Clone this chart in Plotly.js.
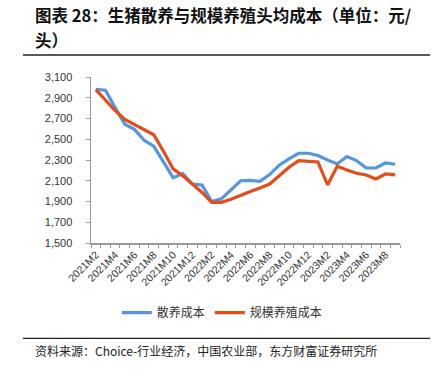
<!DOCTYPE html>
<html>
<head>
<meta charset="utf-8">
<script src="https://cdn.plot.ly/plotly-3.0.1.min.js"></script>
<style>html,body{margin:0;padding:0;background:#fff;}#chart{width:445px;height:375px;}</style>
</head>
<body>
<div id="chart"></div>
<script>
const months = ["2021M2","2021M3","2021M4","2021M5","2021M6","2021M7","2021M8","2021M9","2021M10","2021M11","2021M12","2022M1",
  "2022M2","2022M3","2022M4","2022M5","2022M6","2022M7","2022M8","2022M9","2022M10","2022M11","2022M12","2023M1",
  "2023M2","2023M3","2023M4","2023M5","2023M6","2023M7","2023M8","2023M9"];
const tickLabels = ["2021M2","","2021M4","","2021M6","","2021M8","","2021M10","","2021M12","",
  "2022M2","","2022M4","","2022M6","","2022M8","","2022M10","","2022M12","",
  "2023M2","","2023M4","","2023M6","","2023M8",""];
const freeRangeCost = [2980,2972,2805,2645,2595,2490,2433,2285,2130,2168,2068,2058,
  1900,1925,2008,2100,2104,2095,2160,2250,2310,2365,2365,2343,
  2300,2262,2333,2294,2223,2223,2271,2259];
const scaleFarmCost = [2978,2875,2775,2690,2640,2590,2543,2385,2215,2148,2068,1987,
  1892,1892,1922,1961,1997,2030,2068,2149,2230,2294,2288,2281,
  2059,2239,2204,2172,2156,2117,2165,2156];
const seriesNames = ["散养成本","规模养殖成本"];
const titleLine1 = "图表 28：生猪散养与规模养殖头均成本（单位：元/";
const titleLine2 = "头）";
const sourceText = "资料来源：Choice-行业经济，中国农业部，东方财富证券研究所";

const cjk = '"Noto Sans CJK SC", sans-serif';
const traces = [
  {x: months, y: freeRangeCost, name: seriesNames[0], type: 'scatter', mode: 'lines',
   line: {color: '#5596DC', width: 3.2}},
  {x: months, y: scaleFarmCost, name: seriesNames[1], type: 'scatter', mode: 'lines',
   line: {color: '#E04E1B', width: 3.2}}
];
const layout = {
  width: 445, height: 375,
  margin: {l: 91, r: 45, t: 77, b: 132},
  paper_bgcolor: '#fff', plot_bgcolor: '#fff',
  showlegend: true,
  legend: {orientation: 'h', x: 0.425, xanchor: 'center', y: -0.42, yanchor: 'middle',
    font: {family: cjk, size: 12, color: '#333'}, itemwidth: 30, tracegroupgap: 0},
  xaxis: {type: 'category', tickmode: 'array', tickvals: months, ticktext: tickLabels,
    tickson: 'boundaries', ticks: 'outside', ticklen: 3, tickcolor: '#999', tickwidth: 1,
    showline: true, linecolor: '#999', linewidth: 1.5, showgrid: false, zeroline: false,
    tickangle: -45, tickfont: {family: 'Liberation Sans, Arial', size: 10.5, color: '#333'},
    range: [-0.5, 31.5]},
  yaxis: {range: [1500, 3100], dtick: 200, tick0: 1500, tickformat: ',d',
    ticks: 'outside', ticklen: 4, tickcolor: '#999', tickwidth: 1,
    showline: true, linecolor: '#999', linewidth: 1.5, showgrid: false, zeroline: false,
    ticklabelstandoff: 11,
    tickfont: {family: 'Liberation Sans, Arial', size: 11, color: '#333'}},
  separators: '.,',
  annotations: [
    {text: '<b>' + titleLine1 + '</b>', xref: 'paper', yref: 'paper', x: -0.1877, y: 1.3735,
     xanchor: 'left', yanchor: 'middle', showarrow: false, font: {family: cjk, size: 16.5, color: '#111'}},
    {text: '<b>' + titleLine2 + '</b>', xref: 'paper', yref: 'paper', x: -0.1877, y: 1.2229,
     xanchor: 'left', yanchor: 'middle', showarrow: false, font: {family: cjk, size: 16.5, color: '#111'}},
    {text: sourceText, xref: 'paper', yref: 'paper', x: -0.1877, y: -0.650,
     xanchor: 'left', yanchor: 'middle', showarrow: false, font: {family: cjk, size: 12, color: '#222'}}
  ],
  shapes: [
    {type: 'line', xref: 'paper', yref: 'paper', x0: -0.2201, x1: 1.0971, y0: 1.1325, y1: 1.1325,
     line: {color: '#222', width: 1.3}},
    {type: 'line', xref: 'paper', yref: 'paper', x0: -0.2201, x1: 1.0971, y0: -0.574, y1: -0.574,
     line: {color: '#222', width: 1.3}}
  ]
};
Plotly.newPlot('chart', traces, layout, {displayModeBar: false, staticPlot: true});
</script>
</body>
</html>
